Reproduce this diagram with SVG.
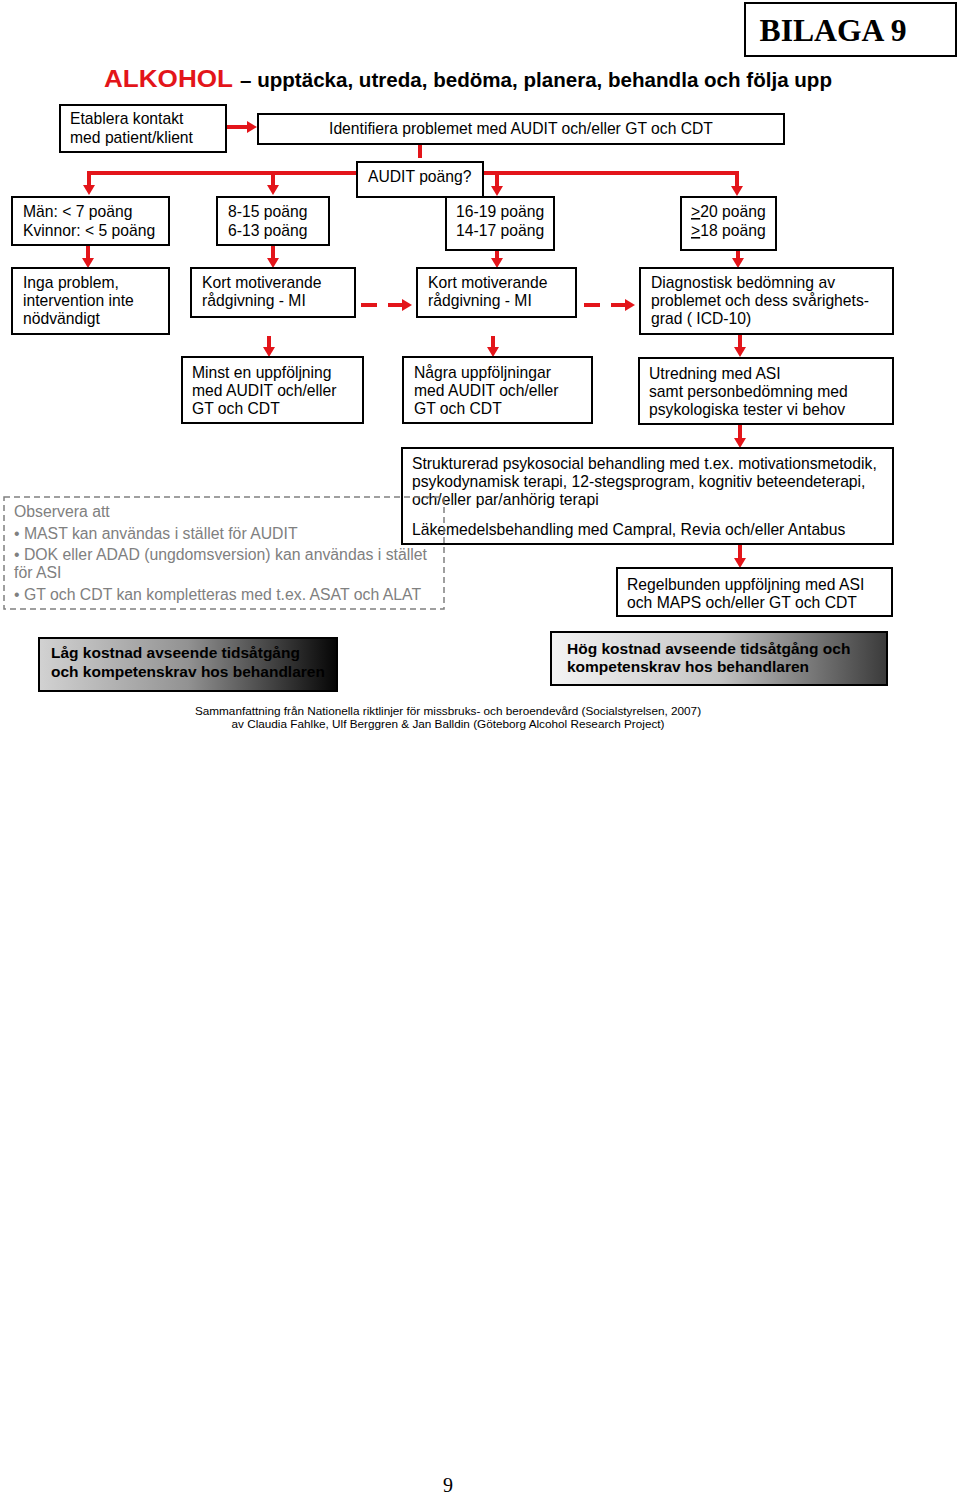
<svg xmlns="http://www.w3.org/2000/svg" width="960" height="1495" viewBox="0 0 960 1495">
<defs>
<style>
.box{fill:#fff;stroke:#000;stroke-width:2}
.t{font-family:"Liberation Sans",Arial,sans-serif;font-size:15.7px;fill:#000}
.g{font-family:"Liberation Sans",Arial,sans-serif;font-size:15.8px;fill:#808080}
.b{font-family:"Liberation Sans",Arial,sans-serif;font-size:15.5px;font-weight:bold;fill:#000}
.f{font-family:"Liberation Sans",Arial,sans-serif;font-size:11.75px;fill:#000}
.c{fill:none;stroke:#e3151a;stroke-width:4}
.ca{fill:none;stroke:#e3151a;stroke-width:4;marker-end:url(#ah)}
.cd{fill:none;stroke:#e3151a;stroke-width:4;stroke-dasharray:16 11;marker-end:url(#ah)}
</style>
<marker id="ah" markerUnits="userSpaceOnUse" viewBox="0 0 10 12" markerWidth="10" markerHeight="12" refX="0" refY="6" orient="auto" preserveAspectRatio="none">
<path d="M0,0 L10,6 L0,12 z" fill="#e3151a"/>
</marker>
<linearGradient id="gLow" x1="0" y1="0" x2="1" y2="0">
<stop offset="0" stop-color="#d2d2d2"/>
<stop offset="0.5" stop-color="#929292"/>
<stop offset="1" stop-color="#050505"/>
</linearGradient>
<linearGradient id="gHigh" x1="0" y1="0" x2="1" y2="0">
<stop offset="0" stop-color="#f4f4f4"/>
<stop offset="0.5" stop-color="#c4c4c4"/>
<stop offset="1" stop-color="#3a3a3a"/>
</linearGradient>
</defs>
<rect width="960" height="1495" fill="#fff"/>

<g id="bilaga">
<rect x="745" y="3" width="211" height="53" class="box"/>
<text x="833" y="41" text-anchor="middle" font-family="Liberation Serif,Times New Roman,serif" font-weight="bold" font-size="31" textLength="147" lengthAdjust="spacingAndGlyphs">BILAGA 9</text>
</g>

<g id="title">
<text x="104" y="87" font-family="Liberation Sans,Arial,sans-serif" font-weight="bold" font-size="24" fill="#e3151a" textLength="129" lengthAdjust="spacingAndGlyphs">ALKOHOL</text>
<text x="240" y="87" font-family="Liberation Sans,Arial,sans-serif" font-weight="bold" font-size="20" fill="#000" textLength="592" lengthAdjust="spacingAndGlyphs">– upptäcka, utreda, bedöma, planera, behandla och följa upp</text>
</g>

<g id="connectors">
<path class="ca" d="M226,127 H247"/>
<path class="c" d="M420,144 V158"/>
<path class="ca" d="M357,173 H89 V185"/>
<path class="ca" d="M273,173 V185"/>
<path class="ca" d="M483,173 H737 V186"/>
<path class="ca" d="M497,173 V186"/>
<path class="ca" d="M88,245 V258"/>
<path class="ca" d="M273,245 V258"/>
<path class="ca" d="M497,250 V258"/>
<path class="ca" d="M738,250 V258"/>
<path class="cd" d="M361,305 H402"/>
<path class="cd" d="M584,305 H625"/>
<path class="ca" d="M269,336 V347"/>
<path class="ca" d="M493,336 V347"/>
<path class="ca" d="M740,334 V347"/>
<path class="ca" d="M740,424 V438"/>
<path class="ca" d="M740,545 V558"/>
</g>

<g id="etablera">
<rect x="60" y="105" width="166" height="47" class="box"/>
<text class="t" x="70" y="124">Etablera kontakt</text>
<text class="t" x="70" y="143">med patient/klient</text>
</g>

<g id="identifiera">
<rect x="258" y="114" width="526" height="30" class="box"/>
<text class="t" x="521" y="134" text-anchor="middle">Identifiera problemet med AUDIT och/eller GT och CDT</text>
</g>

<g id="r1c3">
<rect x="446" y="197" width="108" height="53" class="box"/>
<text class="t" x="456" y="217">16-19 poäng</text>
<text class="t" x="456" y="236">14-17 poäng</text>
</g>

<g id="audit">
<rect x="357" y="162" width="126" height="35" class="box"/>
<text class="t" x="368" y="182">AUDIT poäng?</text>
</g>

<g id="r1c1">
<rect x="12" y="197" width="157" height="48" class="box"/>
<text class="t" x="23" y="217">Män: &lt; 7 poäng</text>
<text class="t" x="23" y="236">Kvinnor: &lt; 5 poäng</text>
</g>

<g id="r1c2">
<rect x="217" y="197" width="112" height="48" class="box"/>
<text class="t" x="228" y="217">8-15 poäng</text>
<text class="t" x="228" y="236">6-13 poäng</text>
</g>

<g id="r1c4">
<rect x="681" y="197" width="95" height="53" class="box"/>
<text class="t" x="691" y="217"><tspan text-decoration="underline">&gt;</tspan>20 poäng</text>
<text class="t" x="691" y="236"><tspan text-decoration="underline">&gt;</tspan>18 poäng</text>
</g>

<g id="r2c1">
<rect x="12" y="268" width="157" height="66" class="box"/>
<text class="t" x="23" y="288">Inga problem,</text>
<text class="t" x="23" y="306">intervention inte</text>
<text class="t" x="23" y="324">nödvändigt</text>
</g>

<g id="r2c2">
<rect x="191" y="268" width="164" height="49" class="box"/>
<text class="t" x="202" y="288">Kort motiverande</text>
<text class="t" x="202" y="306">rådgivning - MI</text>
</g>

<g id="r2c3">
<rect x="417" y="268" width="159" height="49" class="box"/>
<text class="t" x="428" y="288">Kort motiverande</text>
<text class="t" x="428" y="306">rådgivning - MI</text>
</g>

<g id="r2c4">
<rect x="640" y="268" width="253" height="66" class="box"/>
<text class="t" x="651" y="288">Diagnostisk bedömning av</text>
<text class="t" x="651" y="306">problemet och dess svårighets-</text>
<text class="t" x="651" y="324">grad ( ICD-10)</text>
</g>

<g id="r3c2">
<rect x="182" y="357" width="181" height="66" class="box"/>
<text class="t" x="192" y="378">Minst en uppföljning</text>
<text class="t" x="192" y="396">med AUDIT och/eller</text>
<text class="t" x="192" y="414">GT och CDT</text>
</g>

<g id="r3c3">
<rect x="403" y="357" width="189" height="66" class="box"/>
<text class="t" x="414" y="378">Några uppföljningar</text>
<text class="t" x="414" y="396">med AUDIT och/eller</text>
<text class="t" x="414" y="414">GT och CDT</text>
</g>

<g id="r3c4">
<rect x="639" y="358" width="254" height="66" class="box"/>
<text class="t" x="649" y="379">Utredning med ASI</text>
<text class="t" x="649" y="397">samt personbedömning med</text>
<text class="t" x="649" y="415">psykologiska tester vi behov</text>
</g>

<g id="behandling">
<rect x="402" y="448" width="491" height="96" class="box"/>
<text class="t" x="412" y="469">Strukturerad psykosocial behandling med t.ex. motivationsmetodik,</text>
<text class="t" x="412" y="487">psykodynamisk terapi, 12-stegsprogram, kognitiv beteendeterapi,</text>
<text class="t" x="412" y="505">och/eller par/anhörig terapi</text>
<text class="t" x="412" y="535">Läkemedelsbehandling med Campral, Revia och/eller Antabus</text>
</g>

<g id="regelbunden">
<rect x="617" y="568" width="275" height="48" class="box"/>
<text class="t" x="627" y="590">Regelbunden uppföljning med ASI</text>
<text class="t" x="627" y="608">och MAPS och/eller GT och CDT</text>
</g>

<g id="observera">
<rect x="4" y="497" width="440" height="112" fill="none" stroke="#808080" stroke-width="1.5" stroke-dasharray="6 4"/>
<text class="g" x="14" y="517">Observera att</text>
<text class="g" x="14" y="539">• MAST kan användas i stället för AUDIT</text>
<text class="g" x="14" y="560">• DOK eller ADAD (ungdomsversion) kan användas i stället</text>
<text class="g" x="14" y="578">för ASI</text>
<text class="g" x="14" y="600">• GT och CDT kan kompletteras med t.ex. ASAT och ALAT</text>
</g>

<g id="lag">
<rect x="39" y="638" width="298" height="53" fill="url(#gLow)" stroke="#000" stroke-width="2"/>
<text class="b" x="51" y="658">Låg kostnad avseende tidsåtgång</text>
<text class="b" x="51" y="677">och kompetenskrav hos behandlaren</text>
</g>

<g id="hog">
<rect x="551" y="632" width="336" height="53" fill="url(#gHigh)" stroke="#000" stroke-width="2"/>
<text class="b" x="567" y="654">Hög kostnad avseende tidsåtgång och</text>
<text class="b" x="567" y="672">kompetenskrav  hos behandlaren</text>
</g>

<g id="footer">
<text class="f" x="448" y="715" text-anchor="middle">Sammanfattning från Nationella riktlinjer för missbruks- och beroendevård (Socialstyrelsen, 2007)</text>
<text class="f" x="448" y="728" text-anchor="middle">av Claudia Fahlke, Ulf Berggren &amp; Jan Balldin (Göteborg Alcohol Research Project)</text>
</g>

<g id="pagenum">
<text x="448" y="1492" text-anchor="middle" font-family="Liberation Serif,Times New Roman,serif" font-size="20" fill="#000">9</text>
</g>
</svg>
